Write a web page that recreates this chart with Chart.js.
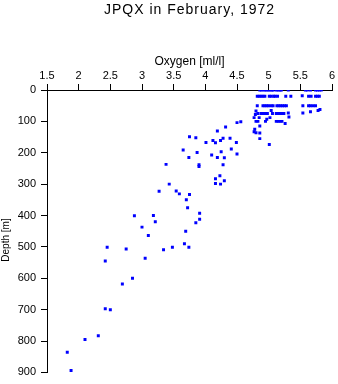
<!DOCTYPE html>
<html lang="en">
<head>
    <meta charset="UTF-8">
    <title>JPQX in February, 1972</title>
    <script src="https://cdn.jsdelivr.net/npm/chart.js"></script>
    <style>
        body {
            margin: 0;
            background: #fff;
        }
        #wrap {
            width: 338px;
            height: 384px;
        }
    </style>
</head>
<body>

    <div id="wrap">
        <canvas id="chart1" width="338" height="384"></canvas>
    </div>

    <script>
        const chartTitle = 'JPQX in February, 1972';
        const xTitle = 'Oxygen [ml/l]';
        const yTitle = 'Depth [m]';
        const xTicks = [1.5, 2, 2.5, 3, 3.5, 4, 4.5, 5, 5.5, 6];
        const yTicks = [0, 100, 200, 300, 400, 500, 600, 700, 800, 900];

        // oxygen [ml/l] and depth [m], one entry per sample
        const oxygen = [
            4.86, 4.89, 4.93, 4.96, 4.99, 5.02, 5.05, 5.07, 5.12, 5.15, 5.18, 5.20, 5.31, 5.58, 5.61, 5.66, 5.74, 5.77, 5.80, 5.83,
            4.82, 4.85, 4.88, 4.91, 4.94, 5.01, 5.04, 5.08, 5.10, 5.14, 5.27, 5.35, 5.53, 5.63, 5.67, 5.74, 5.77, 5.80,
            4.82, 4.91, 4.94, 4.97, 5.00, 5.04, 5.07, 5.13, 5.16, 5.19, 5.22, 5.25, 5.28, 5.54, 5.63, 5.66, 5.70, 5.74,
            4.80, 5.04, 5.81, 5.78, 5.66,
            4.79, 4.83, 4.88, 4.91, 4.94, 4.98, 5.06, 5.12, 5.15, 5.18, 5.21, 5.24, 5.31, 5.54,
            4.77, 4.97, 5.32, 5.02, 4.85,
            4.80, 4.83, 4.95, 5.12, 5.15, 5.18, 5.21, 4.56, 4.50, 5.26,
            4.86, 4.77, 4.80, 4.86, 4.86, 5.01, 4.78,
            4.32, 4.19, 3.75, 3.85, 4.01, 4.12, 4.16, 4.24, 4.28, 4.39, 4.49,
            3.65, 3.74, 3.87, 4.10, 4.19, 4.25, 4.30, 4.41, 4.50,
            3.90, 3.90, 4.28, 3.38, 4.23, 4.16, 4.30, 4.16, 4.24, 3.43,
            3.27, 3.54, 3.59, 3.75, 3.70, 3.72, 3.91, 3.91, 2.88, 3.18, 3.21, 3.85, 3.00,
            3.10, 3.69, 3.67, 3.74, 3.48, 3.34, 2.75, 2.45, 2.42, 3.05,
            2.85, 2.69, 2.42, 2.50, 2.31, 2.10, 1.82, 1.88
        ];
        const depth = [
            0, 0, 0, 0, 0, 0, 0, 0, 0, 0, 0, 0, 0, 0, 0, 0, 0, 0, 0, 0,
            20, 20, 20, 20, 20, 20, 20, 20, 20, 20, 20, 20, 18, 20, 20, 20, 20, 20,
            50, 50, 50, 50, 50, 50, 50, 50, 50, 50, 50, 50, 50, 50, 50, 50, 50, 50,
            67, 65, 62, 65, 69,
            78, 75, 75, 75, 75, 75, 75, 75, 75, 75, 75, 75, 73, 73,
            88, 93, 86, 88, 88,
            100, 100, 100, 100, 100, 100, 100, 101, 104, 107,
            115, 133, 136, 137, 155, 174, 125,
            118, 131, 149, 152, 167, 161, 168, 161, 154, 154, 167,
            191, 215, 199, 207, 215, 197, 216, 188, 204,
            238, 244, 238, 237, 273, 283, 289, 298, 300, 300,
            323, 322, 331, 333, 350, 375, 393, 412, 401, 400, 420, 423, 437,
            464, 450, 490, 501, 501, 509, 507, 501, 545, 536,
            600, 618, 697, 700, 783, 795, 836, 894
        ];

        const points = oxygen.map((o, i) => ({ x: o, y: depth[i] }));

        // titles are centred on the plot area, not on the canvas
        const titlesPlugin = {
            id: 'titles',
            afterDraw(chart) {
                const ctx = chart.ctx;
                const area = chart.chartArea;
                ctx.save();
                ctx.fillStyle = '#000';
                ctx.font = '14px "Liberation Sans", Arial, sans-serif';
                ctx.letterSpacing = '1px';
                ctx.textAlign = 'center';
                ctx.textBaseline = 'alphabetic';
                ctx.fillText(chartTitle, (area.left + area.right) / 2, 14);
                ctx.letterSpacing = '0px';

                ctx.font = '10px "Liberation Sans", Arial, sans-serif';
                ctx.translate(6, 240);
                ctx.rotate(-Math.PI / 2);
                ctx.textBaseline = 'middle';
                ctx.fillText(yTitle, 0, 0);
                ctx.restore();
            }
        };

        const tickFont = { family: '"Liberation Sans", Arial, sans-serif', size: 11 };

        new Chart(document.getElementById('chart1').getContext('2d'), {
            type: 'scatter',
            data: {
                datasets: [{
                    data: points,
                    pointStyle: 'rect',
                    pointRadius: 2.1,
                    pointBorderWidth: 0,
                    backgroundColor: '#0000ff',
                    borderColor: '#0000ff'
                }]
            },
            options: {
                responsive: false,
                animation: false,
                layout: { padding: { left: 0, top: 0, right: 6, bottom: 9 } },
                plugins: {
                    legend: { display: false },
                    tooltip: { enabled: false },
                    title: { display: false }
                },
                scales: {
                    x: {
                        type: 'linear',
                        position: 'top',
                        min: 1.5,
                        max: 6,
                        afterBuildTicks: axis => { axis.ticks = xTicks.map(v => ({ value: v })); },
                        afterFit: scale => { scale.height = 90; },
                        ticks: {
                            color: '#000',
                            font: tickFont,
                            padding: 1,
                            autoSkip: false,
                            maxRotation: 0,
                            callback: v => String(v)
                        },
                        grid: { drawOnChartArea: false, drawTicks: true, tickLength: 6, color: '#000' },
                        border: { display: true, color: '#000', width: 1 },
                        title: {
                            display: true,
                            text: xTitle,
                            color: '#000',
                            font: { family: '"Liberation Sans", Arial, sans-serif', size: 12 },
                            padding: { top: 54, bottom: 0 }
                        }
                    },
                    y: {
                        type: 'linear',
                        reverse: true,
                        min: 0,
                        max: 900,
                        afterBuildTicks: axis => { axis.ticks = yTicks.map(v => ({ value: v })); },
                        afterFit: scale => { scale.width = 47; },
                        ticks: { color: '#000', font: tickFont, padding: 5, autoSkip: false },
                        grid: { drawOnChartArea: false, drawTicks: true, tickLength: 6, color: '#000' },
                        border: { display: true, color: '#000', width: 1 }
                    }
                }
            },
            plugins: [titlesPlugin]
        });
    </script>
</body>
</html>
